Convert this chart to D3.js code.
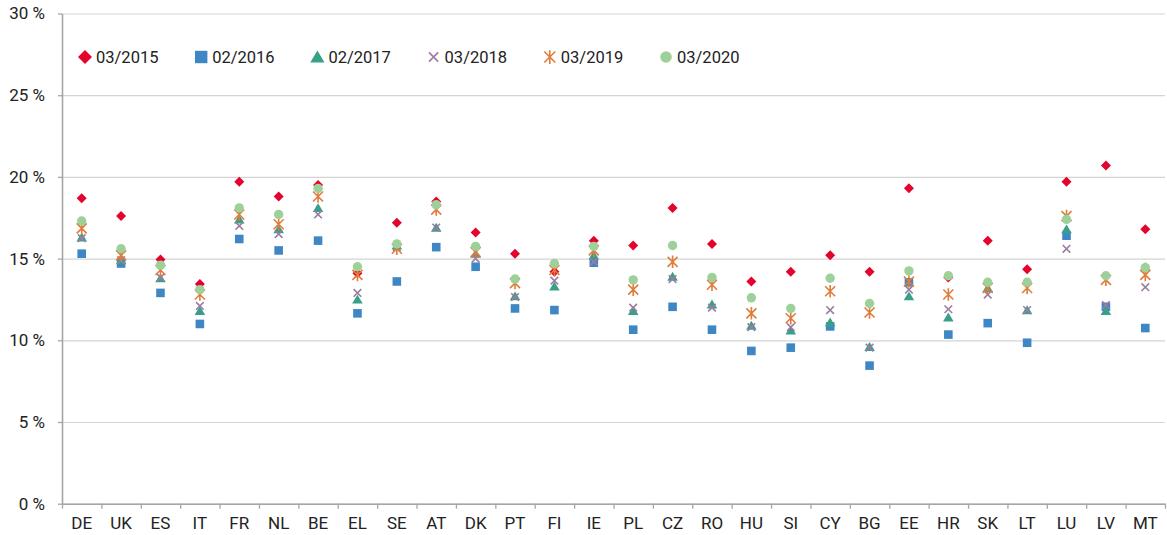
<!DOCTYPE html>
<html>
<head>
<meta charset="utf-8">
<script src="https://cdn.jsdelivr.net/npm/d3@7"></script>
<style>
  body { margin: 0; background: #fff; }
  text { font-family: Roboto, "Noto Sans", sans-serif; fill: #222; }
</style>
</head>
<body>
<div id="chart"></div>
<script>
var countries = ["DE", "UK", "ES", "IT", "FR", "NL", "BE", "EL", "SE", "AT", "DK", "PT", "FI", "IE",
  "PL", "CZ", "RO", "HU", "SI", "CY", "BG", "EE", "HR", "SK", "LT", "LU", "LV", "MT"]

var seriesNames = ["03/2015", "02/2016", "02/2017", "03/2018", "03/2019", "03/2020"]

var v2015 = [18.7, 17.6, 14.95, 13.45, 19.7, 18.8, 19.5, 14.1, 17.2, 18.5, 16.6, 15.3, 14.2, 16.1,
  15.8, 18.1, 15.9, 13.6, 14.2, 15.2, 14.2, 19.3, 13.85, 16.1, 14.35, 19.7, 20.7, 16.8]
var v2016 = [15.3, 14.7, 12.9, 11.0, 16.2, 15.5, 16.1, 11.65, 13.6, 15.7, 14.5, 11.95, 11.85, 14.75,
  10.65, 12.05, 10.65, 9.35, 9.55, 10.85, 8.45, 13.55, 10.35, 11.05, 9.85, 16.4, 12.05, 10.75]
var v2017 = [16.3, 14.9, 13.8, 11.8, 17.4, 16.8, 18.1, 12.5, 15.8, 16.9, 15.3, 12.7, 13.3, 15.2,
  11.8, 13.9, 12.2, 10.9, 10.6, 11.1, 9.6, 12.7, 11.4, 13.2, 11.85, 16.8, 11.8, 14.5]
var v2018 = [16.25, 14.9, 13.85, 12.1, 17.0, 16.5, 17.7, 12.9, 15.7, 16.9, 15.0, 12.65, 13.65, 14.8,
  12.0, 13.75, 12.0, 10.8, 10.8, 11.85, 9.55, 13.1, 11.9, 12.8, 11.85, 15.6, 12.15, 13.25]
var v2019 = [16.85, 15.2, 14.3, 12.8, 17.7, 17.1, 18.8, 14.0, 15.6, 18.0, 15.4, 13.5, 14.3, 15.5,
  13.1, 14.8, 13.4, 11.65, 11.35, 13.0, 11.7, 13.6, 12.8, 13.2, 13.2, 17.6, 13.7, 14.0]
var v2020 = [17.3, 15.6, 14.6, 13.1, 18.1, 17.7, 19.3, 14.5, 15.9, 18.3, 15.75, 13.75, 14.7, 15.75,
  13.7, 15.8, 13.85, 12.6, 11.95, 13.8, 12.25, 14.25, 13.95, 13.55, 13.55, 17.4, 13.95, 14.45]

var yTicks = [0, 5, 10, 15, 20, 25, 30]

var allValues = [v2015, v2016, v2017, v2018, v2019, v2020]

var w = 1167
var h = 535
var margin = {top: 13.5, right: 2, bottom: 31.3, left: 62}
var width = w - margin.left - margin.right
var height = h - margin.top - margin.bottom

var colors = ["#e3032d", "#3f87c4", "#38a088", "#9b7ca2", "#e07c3a", "#9ed09a"]
var shapes = ["diamond", "square", "triangle", "times", "star", "circle"]

function markerPath(shape, r) {
  if (shape == "diamond") return "M0," + (-r) + "L" + r + ",0L0," + r + "L" + (-r) + ",0Z"
  if (shape == "square") return "M" + (-r) + "," + (-r) + "h" + 2 * r + "v" + 2 * r + "h" + (-2 * r) + "Z"
  if (shape == "triangle") return "M0," + (-r) + "L" + r * 1.1 + "," + r * 0.85 + "L" + (-r * 1.1) + "," + r * 0.85 + "Z"
  if (shape == "times") return "M" + (-r) + "," + (-r) + "L" + r + "," + r + "M" + (-r) + "," + r + "L" + r + "," + (-r)
  if (shape == "star") return "M" + (-r) + "," + (-r) + "L" + r + "," + r + "M" + (-r) + "," + r + "L" + r + "," + (-r) +
    "M0," + (-r * 1.25) + "L0," + r * 1.25
}

var plotSize = {diamond: 5, square: 4.3, triangle: 4.8, times: 3.8, star: 5, circle: 4.7}
var legendSize = {diamond: 7, square: 6.2, triangle: 6.5, times: 4.6, star: 5.5, circle: 5.8}

function drawMarker(sel, shape, r, color) {
  if (shape == "circle") {
    sel.append("circle").attr("r", r).attr("fill", color)
  } else if (shape == "times" || shape == "star") {
    sel.append("path").attr("d", markerPath(shape, r))
      .attr("fill", "none").attr("stroke", color).attr("stroke-width", 1.6)
  } else {
    sel.append("path").attr("d", markerPath(shape, r)).attr("fill", color)
  }
}

var xScale = d3.scaleBand().domain(countries).range([0, width]).padding(0)
var xEdges = d3.scaleLinear().domain([0, countries.length]).range([0, width])
var yScale = d3.scaleLinear().domain([0, 30]).range([height, 0])

var svg = d3.select("#chart").append("svg")
  .attr("width", w)
  .attr("height", h)

var g = svg.append("g")
  .attr("transform", "translate(" + margin.left + "," + margin.top + ")")

// grid
g.append("g")
  .attr("class", "grid")
  .call(d3.axisLeft(yScale).tickValues(yTicks).tickSize(-width).tickFormat(""))
  .call(s => s.select(".domain").remove())
  .call(s => s.selectAll("line").attr("stroke", "#d4d4d4").attr("stroke-width", 1.2))

// y axis
var yAxis = g.append("g")
  .attr("class", "axis-y")
  .call(d3.axisLeft(yScale).tickValues(yTicks).tickSize(4).tickSizeOuter(0).tickPadding(13)
    .tickFormat(d => d + " %"))
yAxis.select(".domain").attr("stroke", "#a6a6a6").attr("stroke-width", 1.6)
yAxis.selectAll("line").attr("stroke", "#a6a6a6").attr("stroke-width", 1.3)
yAxis.selectAll("text").style("font-size", "17px").attr("fill", "#222")

// x axis: tick marks at band edges, labels at band centers
var xTicks = g.append("g")
  .attr("transform", "translate(0," + height + ")")
  .call(d3.axisBottom(xEdges).tickValues(d3.range(0, countries.length + 1)).tickSize(5).tickSizeOuter(0).tickFormat(""))
xTicks.select(".domain").attr("stroke", "#a6a6a6").attr("stroke-width", 1.6)
xTicks.selectAll("line").attr("stroke", "#a6a6a6").attr("stroke-width", 1.3)

var xAxis = g.append("g")
  .attr("transform", "translate(0," + height + ")")
  .call(d3.axisBottom(xScale).tickSize(0).tickPadding(13))
xAxis.select(".domain").remove()
xAxis.selectAll("text").style("font-size", "17px").attr("fill", "#222")

// points
seriesNames.forEach(function(name, si) {
  var vals = allValues[si]
  var layer = g.append("g").attr("class", "series-" + si)
  countries.forEach(function(c, ci) {
    var m = layer.append("g")
      .attr("transform", "translate(" + (xScale(c) + xScale.bandwidth() / 2) + "," + yScale(vals[ci]) + ")")
    drawMarker(m, shapes[si], plotSize[shapes[si]], colors[si])
  })
})

// legend
var legendX = d3.scalePoint().domain(seriesNames).range([85, 666])
var legend = svg.append("g").attr("class", "legend")
seriesNames.forEach(function(name, si) {
  var item = legend.append("g").attr("transform", "translate(" + legendX(name) + ",57)")
  drawMarker(item, shapes[si], legendSize[shapes[si]], colors[si])
  item.append("text")
    .attr("x", 11)
    .attr("y", 6)
    .style("font-size", "16.5px")
    .text(name)
})
</script>
</body>
</html>
